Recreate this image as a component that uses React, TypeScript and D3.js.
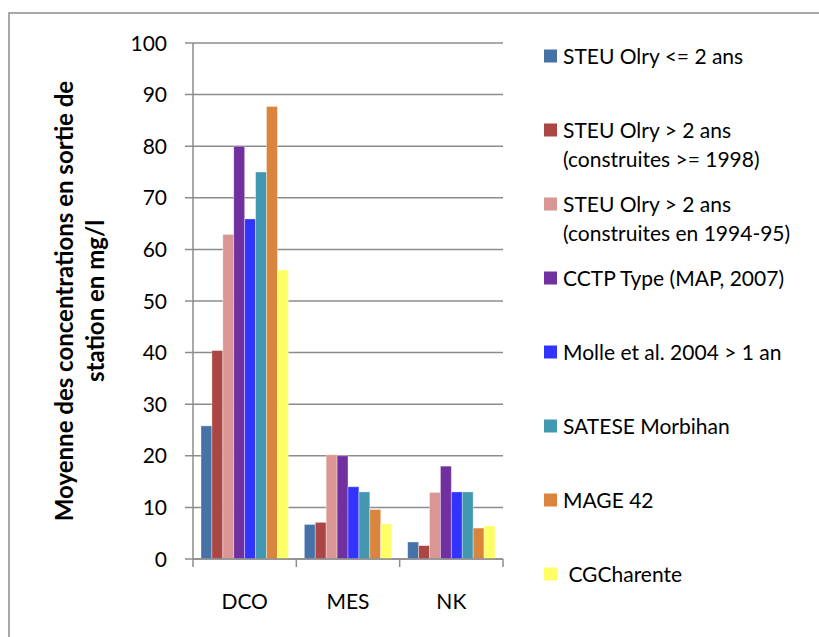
import * as d3 from 'd3'
import React from 'react'

const categories = ['DCO', 'MES', 'NK']
const seriesNames = [
  'STEU Olry <= 2 ans',
  'STEU Olry > 2 ans\n(construites >= 1998)',
  'STEU Olry > 2 ans\n(construites en 1994-95)',
  'CCTP Type (MAP, 2007)',
  'Molle et al. 2004 > 1 an',
  'SATESE Morbihan',
  'MAGE 42',
  ' CGCharente',
]
const seriesColors = ['#4573A7', '#AA4643', '#DA9694', '#7030A0', '#3333FF', '#4298B0', '#DB843D', '#FFFF66']
// values per series, in category order DCO, MES, NK
const steuRecent = [25.8, 6.7, 3.3]
const steu1998 = [40.4, 7.1, 2.6]
const steu1994 = [62.9, 20.2, 12.9]
const cctp = [80, 20, 18]
const molle = [65.9, 14, 13]
const satese = [75, 13, 13]
const mage = [87.7, 9.6, 6]
const cgCharente = [56, 6.8, 6.4]
const seriesValues = [steuRecent, steu1998, steu1994, cctp, molle, satese, mage, cgCharente]
const yTicks = [0, 10, 20, 30, 40, 50, 60, 70, 80, 90, 100]

const W = 819
const H = 637
const plot = { left: 193, right: 503, top: 43, bottom: 559 }
const font = 'Lato, "Open Sans", sans-serif'
const grid = '#8C8C8C'

export default function App() {
  const x0 = d3
    .scaleBand<string>()
    .domain(categories)
    .range([plot.left, plot.right])
    .paddingInner(0.155)
    .paddingOuter(0.0775)
  const x1 = d3
    .scaleBand<number>()
    .domain(d3.range(seriesNames.length))
    .range([0, x0.bandwidth()])
  const y = d3.scaleLinear().domain([0, 100]).range([plot.bottom, plot.top])
  // category boundaries for the x axis tick marks
  const edges = d3.range(categories.length + 1).map((i) => plot.left + (i * (plot.right - plot.left)) / categories.length)

  return (
    <svg width={W} height={H} style={{ position: 'absolute', left: 0, top: 0, background: '#fff' }}>
      <rect x={9} y={13} width={W + 10} height={H + 10} fill="#fff" stroke={grid} strokeWidth={1.5} />

      {/* gridlines + y ticks */}
      {yTicks.map((t) => (
        <g key={t}>
          <line x1={plot.left - 8} x2={plot.right} y1={y(t)} y2={y(t)} stroke={grid} strokeWidth={1.5} />
          <text x={167} y={y(t)} dy="0.36em" textAnchor="end" fontFamily={font} fontSize={21} fill="#000">
            {t}
          </text>
        </g>
      ))}
      <line x1={plot.left} x2={plot.left} y1={plot.top} y2={plot.bottom} stroke={grid} strokeWidth={1.5} />

      {/* bars */}
      {categories.map((c, ci) => (
        <g key={c} transform={`translate(${x0(c)},0)`}>
          {seriesValues.map((vals, si) => (
            <rect
              key={si}
              x={x1(si)}
              y={y(vals[ci])}
              width={x1.bandwidth()}
              height={plot.bottom - y(vals[ci])}
              fill={seriesColors[si]}
              stroke="rgba(255,255,255,0.45)"
              strokeWidth={0.8}
            />
          ))}
        </g>
      ))}

      {/* x axis */}
      <line x1={plot.left} x2={plot.right} y1={plot.bottom} y2={plot.bottom} stroke={grid} strokeWidth={1.5} />
      {edges.map((e, i) => (
        <line key={i} x1={e} x2={e} y1={plot.bottom} y2={plot.bottom + 8} stroke={grid} strokeWidth={1.5} />
      ))}
      {categories.map((c) => (
        <text
          key={c}
          x={(x0(c) as number) + x0.bandwidth() / 2}
          y={601}
          dy="0.36em"
          textAnchor="middle"
          fontFamily={font}
          fontSize={21}
          fill="#000"
        >
          {c}
        </text>
      ))}

      {/* y title */}
      <text
        transform="translate(64,301) rotate(-90)"
        textAnchor="middle"
        fontFamily={font}
        fontSize={24}
        fontWeight="bold"
        fill="#000"
      >
        <tspan x={0} dy="0.36em">Moyenne des concentrations en sortie de</tspan>
        <tspan x={0} dy={31}>station en mg/l</tspan>
      </text>

      {/* legend */}
      {seriesNames.map((name, i) => {
        const cy = 56 + i * 74
        return (
          <g key={i}>
            <rect x={544} y={cy - 6.5} width={13} height={13} fill={seriesColors[i]} />
            <text x={563} y={cy} fontFamily={font} fontSize={21} fill="#000" style={{ whiteSpace: 'pre' }}>
              {name.split('\n').map((line, li) => (
                <tspan key={li} x={563} dy={li === 0 ? '0.36em' : 29}>
                  {line}
                </tspan>
              ))}
            </text>
          </g>
        )
      })}
    </svg>
  )
}
